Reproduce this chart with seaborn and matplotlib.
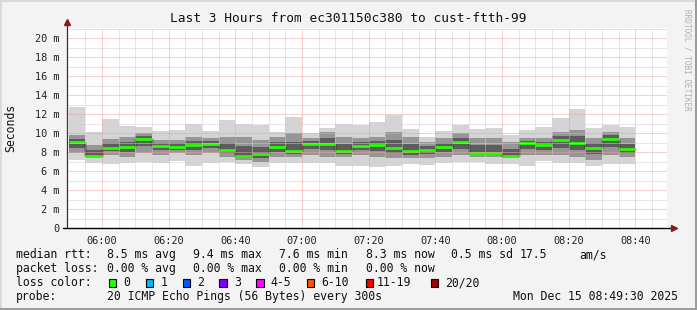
import matplotlib
matplotlib.use("Agg")
import matplotlib.pyplot as plt
import seaborn as sns
import numpy as np
from matplotlib.lines import Line2D
from matplotlib.patches import Rectangle

# ---------------- data ----------------
bar_starts = ["05:50", "05:55", "06:00", "06:05", "06:10", "06:15", "06:20", "06:25",
              "06:30", "06:35", "06:40", "06:45", "06:50", "06:55", "07:00", "07:05",
              "07:10", "07:15", "07:20", "07:25", "07:30", "07:35", "07:40", "07:45",
              "07:50", "07:55", "08:00", "08:05", "08:10", "08:15", "08:20", "08:25",
              "08:30", "08:35"]
median_ms = [9.05, 7.60, 8.46, 8.56, 9.40, 8.67, 8.56, 8.77, 8.88, 8.21, 7.62, 7.82,
             8.56, 8.14, 8.88, 8.88, 8.14, 8.65, 8.77, 8.42, 8.10, 8.21, 8.53, 9.05,
             7.93, 7.93, 7.62, 8.98, 8.77, 9.26, 8.98, 8.39, 9.37, 8.30]
max_ms = [12.77, 10.07, 11.47, 10.74, 10.60, 10.18, 10.32, 10.95, 10.25, 11.37, 10.95, 10.88,
          10.07, 11.72, 9.96, 10.49, 10.95, 10.84, 11.16, 11.93, 10.42, 9.58, 10.21, 10.88,
          10.42, 10.53, 9.79, 10.32, 10.67, 11.61, 12.53, 10.53, 10.88, 10.67]
min_ms = [7.16, 6.81, 6.70, 6.81, 6.91, 6.81, 7.02, 6.56, 6.81, 6.91, 6.70, 6.46,
          6.81, 6.81, 6.81, 6.81, 6.56, 6.56, 6.46, 6.56, 6.70, 6.63, 6.81, 6.91,
          6.91, 6.70, 6.70, 6.56, 7.02, 6.81, 6.81, 6.56, 6.70, 6.70]
q_hi_ms = [9.79, 8.74, 9.33, 9.61, 9.96, 9.26, 9.26, 9.61, 9.44, 9.61, 9.61, 9.26,
           9.61, 9.96, 9.44, 10.14, 9.61, 9.44, 9.61, 10.14, 9.61, 9.09, 9.44, 9.96,
           9.44, 9.44, 9.09, 9.44, 9.44, 10.14, 10.32, 9.44, 10.14, 9.44]
q_lo_ms = [7.86, 7.51, 7.68, 7.51, 7.86, 7.68, 7.86, 7.68, 7.86, 7.51, 7.16, 6.98,
           7.51, 7.51, 7.68, 7.51, 7.51, 7.68, 7.51, 7.33, 7.33, 7.33, 7.51, 7.68,
           7.51, 7.51, 7.33, 7.68, 7.68, 7.68, 7.51, 7.16, 7.68, 7.51]

y_ticks = [0, 2, 4, 6, 8, 10, 12, 14, 16, 18, 20]
y_tick_labels = ["0", "2 m", "4 m", "6 m", "8 m", "10 m", "12 m", "14 m", "16 m", "18 m", "20 m"]
x_tick_labels = ["06:00", "06:20", "06:40", "07:00", "07:20", "07:40", "08:00", "08:20", "08:40"]

title = "Last 3 Hours from ec301150c380 to cust-ftth-99"
loss_labels = ["0", "1", "2", "3", "4-5", "6-10", "11-19", "20/20"]
loss_colors = ["#26ff00", "#00b8ff", "#0059ff", "#7e00ff", "#ff00ff", "#ff5500", "#ff0000", "#a10000"]

# ---------------- style ----------------
sns.set_style("white")
plt.rcParams["font.family"] = ["DejaVu Sans Mono"]
plt.rcParams["lines.scale_dashes"] = False

W, H = 697, 310
fig = plt.figure(figsize=(W / 100, H / 100), dpi=100, facecolor="#f3f3f3")
L, R, T, B = 67, 667, 28, 228
ax = fig.add_axes([L / W, 1 - B / H, (R - L) / W, (B - T) / H])
ax.set_facecolor("white")


def tmin(s):
    h, m = s.split(":")
    return int(h) * 60 + int(m)


xs = np.array([tmin(s) for s in bar_starts], dtype=float)
step = xs[1] - xs[0]
edges = np.append(xs, xs[-1] + step)


def ext(a):
    a = np.asarray(a, dtype=float)
    return np.append(a, a[-1])


x0 = tmin("05:49") + 0.5
ax.set_xlim(x0, x0 + 180)
ax.set_ylim(0, (B - T) / 9.5)

# smoke bands
ax.fill_between(edges, ext(min_ms), ext(max_ms), step="post", color="#d4d4d4", lw=0, zorder=1)
ax.fill_between(edges, ext(q_lo_ms), ext(q_hi_ms), step="post", color="#969696", lw=0, zorder=1.2)
mid_lo = [(a + m) / 2 for a, m in zip(q_lo_ms, median_ms)]
mid_hi = [(a + m) / 2 for a, m in zip(q_hi_ms, median_ms)]
ax.fill_between(edges, ext(mid_lo), ext(mid_hi), step="post", color="#5c5c5c", lw=0, zorder=1.4)

# median step line (black) + loss-coloured median
sns.lineplot(x=edges, y=ext(median_ms), drawstyle="steps-post", color="#111111",
             lw=1.0, ax=ax, estimator=None, zorder=3)
ax.hlines(median_ms, xs, xs + step, colors=loss_colors[0], lw=2.0, zorder=4)

# grid (drawn on top like rrdtool)
dot = (0, (0.72, 0.72))
for v in range(1, 22, 2):
    ax.axhline(v, color="#cfcfcf", lw=0.72, ls=dot, zorder=5)
for v in y_ticks[1:]:
    ax.axhline(v, color="#f0a0a0", lw=0.72, ls=dot, zorder=6)
major_x = [tmin(s) for s in x_tick_labels]
for v in np.arange(xs[0], x0 + 180, 5):
    if v not in major_x and v > x0 + 1:
        ax.axvline(v, color="#cfcfcf", lw=0.72, ls=dot, zorder=5)
for v in major_x:
    ax.axvline(v, color="#f0a0a0", lw=0.72, ls=dot, zorder=6)

for s in ax.spines.values():
    s.set_visible(False)

ax.set_yticks(y_ticks)
ax.set_yticklabels(y_tick_labels)
ax.set_xticks(major_x)
ax.set_xticklabels(x_tick_labels)
ax.set_xticks(np.arange(xs[0], x0 + 180, 5), minor=True)
ax.tick_params(axis="both", which="major", length=2.5, width=0.7, color="#555555",
               labelsize=7.4, labelcolor="#222222", pad=3)
ax.tick_params(axis="x", which="minor", length=1.8, width=0.7, color="#555555")
ax.set_xlabel("")
ax.set_ylabel("")
ax.grid(False)

# axis lines with arrows
ax.add_line(Line2D([0, 0], [0, 1.028], transform=ax.transAxes, color="#333333",
                   lw=0.9, clip_on=False, zorder=8))
ax.add_line(Line2D([-0.007, 1.008], [0, 0], transform=ax.transAxes, color="#000000",
                   lw=1.0, clip_on=False, zorder=8))
ax.plot([0], [1.03], marker="^", ms=4, color="#8b1a1a", transform=ax.transAxes,
        clip_on=False, zorder=9)
ax.plot([1.011], [0], marker=">", ms=4, color="#8b1a1a", transform=ax.transAxes,
        clip_on=False, zorder=9)

# title & labels
fig.text(348 / W, 1 - 18 / H, title, ha="center", va="center", fontsize=9.3, color="#111111")
fig.text(11 / W, 1 - 128 / H, "Seconds", rotation=90, ha="center", va="center",
         fontsize=8.3, color="#111111")
fig.text(687 / W, 1 - 60 / H, "RRDTOOL / TOBI OETIKER", rotation=270, ha="center",
         va="center", fontsize=5.6, color="#b0b0b0")

fs = 8.3


def put(xp, yp, s):
    fig.text(xp / W, 1 - yp / H, s, ha="left", va="center", fontsize=fs, color="#111111")


y1, y2, y3, y4 = 254.5, 268.5, 282.5, 296.5
put(16, y1, "median rtt:")
put(107.3, y1, "8.5 ms avg")
put(193.3, y1, "9.4 ms max")
put(279.3, y1, "7.6 ms min")
put(365.7, y1, "8.3 ms now")
put(451, y1, "0.5 ms sd")
put(519.3, y1, "17.5")
put(579, y1, "am/s")

put(16, y2, "packet loss:")
put(107.3, y2, "0.00 % avg")
put(193.3, y2, "0.00 % max")
put(279.3, y2, "0.00 % min")
put(365.7, y2, "0.00 % now")

put(16, y3, "loss color:")
box_x = [108.7, 145.7, 182.7, 219.3, 256.0, 306.7, 365.7, 430.7]
lab_x = [123.5, 160.5, 197.3, 234.3, 270.7, 321.7, 377.0, 445.0]
for bx, lx, lab, col in zip(box_x, lab_x, loss_labels, loss_colors):
    fig.patches.append(Rectangle((bx / W, 1 - (y3 + 4) / H), 7.5 / W, 8 / H,
                                 transform=fig.transFigure, facecolor=col,
                                 edgecolor="black", lw=0.8))
    put(lx, y3, lab)

put(16, y4, "probe:")
put(107.3, y4, "20 ICMP Echo Pings (56 Bytes) every 300s")
put(513.3, y4, "Mon Dec 15 08:49:30 2025")

# frame
fig.add_artist(Line2D([0, 1], [1 - 0.5 / H, 1 - 0.5 / H], transform=fig.transFigure,
                      color="#d6d6d6", lw=1.2))
fig.add_artist(Line2D([0.5 / W, 0.5 / W], [0, 1], transform=fig.transFigure,
                      color="#d6d6d6", lw=1.2))
fig.add_artist(Line2D([0, 1], [1.2 / H, 1.2 / H], transform=fig.transFigure,
                      color="#9c9c9c", lw=2.2))
fig.add_artist(Line2D([1 - 1.2 / W, 1 - 1.2 / W], [0, 1], transform=fig.transFigure,
                      color="#9c9c9c", lw=2.2))

fig.savefig("out.png", dpi=100, facecolor=fig.get_facecolor())
